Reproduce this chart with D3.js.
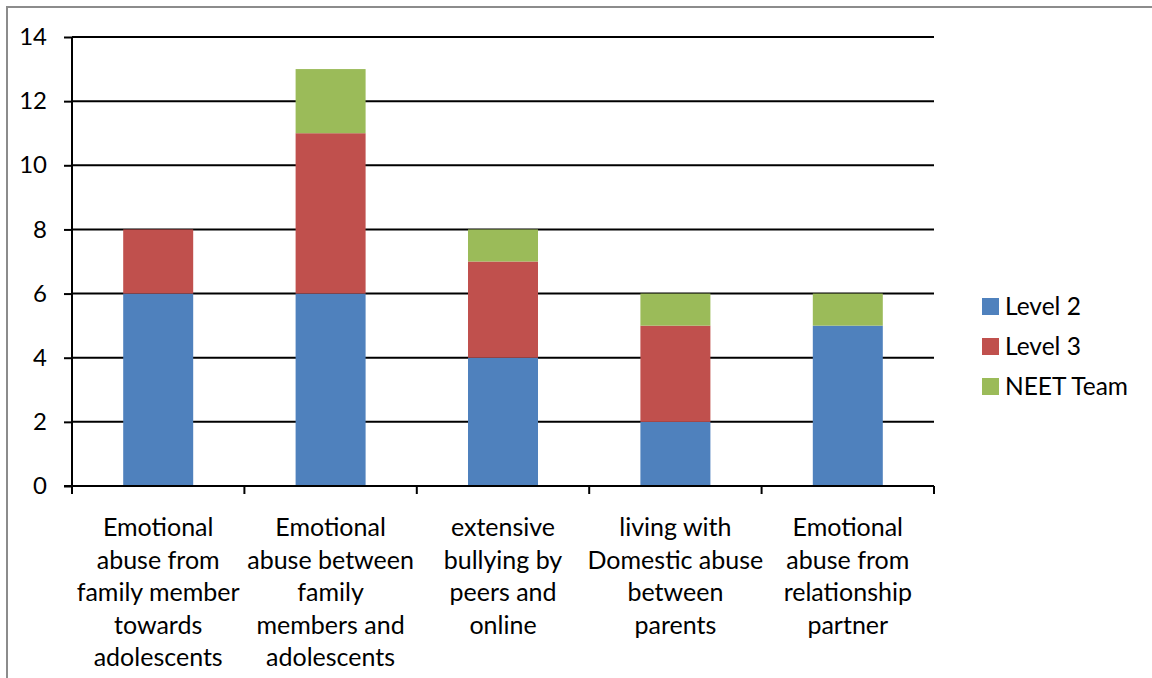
<!DOCTYPE html>
<html><head><meta charset="utf-8">
<script src="https://cdn.jsdelivr.net/npm/d3@7"></script>
<style>body{margin:0;background:#fff;} svg{display:block;font-family:Lato,"Open Sans",sans-serif;}</style>
</head><body><svg id="c" width="1152" height="678"></svg>
<script>
const categories = [
  ["Emotional","abuse from","family member","towards","adolescents"],
  ["Emotional","abuse between","family","members and","adolescents"],
  ["extensive","bullying by","peers and","online"],
  ["living with","Domestic abuse","between","parents"],
  ["Emotional","abuse from","relationship","partner"]
];
const seriesNames = ["Level 2","Level 3","NEET Team"];
const level2 = [6,6,4,2,5];
const level3 = [2,5,3,3,0];
const neet   = [0,2,1,1,1];
const yTicks = [0,2,4,6,8,10,12,14];
const colors = ["#4F81BD","#C0504D","#9BBB59"];

const svg = d3.select("#c");
svg.append("rect").attr("x",7).attr("y",7).attr("width",1160).attr("height",700)
  .attr("fill","#fff").attr("stroke","#8c8c8c").attr("stroke-width",2);

const x0=72, x1=934, y0=486, y1=37;
const x = d3.scaleBand().domain(d3.range(categories.length)).range([x0,x1]).padding(0);
const y = d3.scaleLinear().domain([0,14]).range([y0,y1]);

// gridlines
svg.append("g").selectAll("line").data(yTicks.filter(d=>d>0)).join("line")
  .attr("x1",x0).attr("x2",x1).attr("y1",d=>y(d)).attr("y2",d=>y(d))
  .attr("stroke","#000").attr("stroke-width",2);

const rows = categories.map((c,i)=>({i, vals:[level2[i],level3[i],neet[i]]}));
const stack = d3.stack().keys([0,1,2]).value((d,k)=>d.vals[k])(rows);
const bw = x.bandwidth()*0.406;
svg.append("g").selectAll("g").data(stack).join("g").attr("fill",(d,k)=>colors[k])
  .selectAll("rect").data(d=>d).join("rect")
  .attr("x",d=>x(d.data.i)+x.bandwidth()/2-bw/2).attr("width",bw)
  .attr("y",d=>y(d[1])).attr("height",d=>y(d[0])-y(d[1]));

// y axis
const ya = svg.append("g").attr("transform",`translate(${x0},0)`)
  .call(d3.axisLeft(y).tickValues(yTicks).tickSize(8).tickPadding(17));
ya.select(".domain").attr("stroke","#000").attr("stroke-width",2).attr("d",`M0,${y0}V${y1}`);
ya.selectAll(".tick line").attr("stroke","#000").attr("stroke-width",2);
ya.selectAll("text").attr("font-size",24).attr("fill","#000").attr("font-family","Lato");

// x axis
const xa = svg.append("g").attr("transform",`translate(0,${y0})`);
xa.append("line").attr("x1",x0-8).attr("x2",x1).attr("y1",0).attr("y2",0).attr("stroke","#000").attr("stroke-width",2);
const bounds = d3.range(categories.length+1).map(i=> i<categories.length? x(i): x1);
xa.selectAll("line.t").data(bounds).join("line").attr("class","t")
  .attr("x1",d=>d).attr("x2",d=>d).attr("y1",0).attr("y2",8).attr("stroke","#000").attr("stroke-width",2);
categories.forEach((lines,i)=>{
  const t = xa.append("text").attr("text-anchor","middle").attr("font-size",25).attr("fill","#000")
    .attr("x",x(i)+x.bandwidth()/2);
  lines.forEach((l,j)=>t.append("tspan").attr("x",x(i)+x.bandwidth()/2).attr("y",50+j*32.5).text(l));
});

// legend
const lg = svg.append("g");
seriesNames.forEach((s,k)=>{
  lg.append("rect").attr("x",982).attr("y",298+k*40).attr("width",17).attr("height",17).attr("fill",colors[k]);
  lg.append("text").attr("x",1005).attr("y",315+k*40).attr("font-size",24.5).attr("fill","#000").text(s);
});
</script></body></html>
